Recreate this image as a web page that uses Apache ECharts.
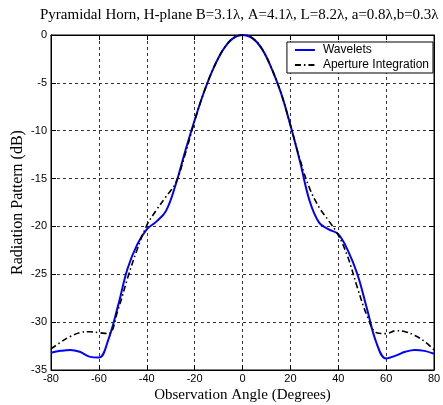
<!DOCTYPE html>
<html>
<head>
<meta charset="utf-8" />
<title>Pyramidal Horn</title>
<script src="https://cdn.jsdelivr.net/npm/echarts@6/dist/echarts.min.js"></script>
<style>
  html, body { margin: 0; padding: 0; background: #fff; }
  #chart { width: 443px; height: 405px; }
</style>
</head>
<body>
<div id="chart"></div>
<script type="text/javascript">
// observation angles (degrees)
var angles = [-80, -76, -72, -68, -64, -60, -56, -52, -48, -44, -40, -36, -32, -28, -24, -20, -16, -12, -8, -4,
  0, 4, 8, 12, 16, 20, 24, 28, 32, 36, 40, 44, 48, 52, 56, 60, 64, 68, 72, 76, 80];
// radiation pattern (dB)
var wavelets = [-33.2, -33.0, -32.9, -33.1, -33.6, -33.7, -31.8, -28.3, -24.4, -21.9, -20.3, -19.5, -18.4, -15.7, -12.2, -8.9, -5.9, -3.4, -1.5, -0.35,
  0, -0.3, -1.4, -3.4, -6.0, -9.4, -13.2, -17.3, -19.6, -20.3, -20.8, -22.5, -25.0, -28.6, -32.2, -33.8, -33.5, -33.1, -32.9, -33.0, -33.3];
var aperture = [-32.8, -32.1, -31.5, -31.1, -31.0, -31.1, -31.2, -28.7, -25.4, -22.4, -19.9, -18.3, -16.9, -15.5, -12.5, -9.0, -5.9, -3.4, -1.5, -0.35,
  0, -0.3, -1.4, -3.4, -6.0, -9.4, -13.0, -16.0, -18.0, -19.4, -20.9, -23.2, -26.4, -29.3, -31.1, -31.2, -30.9, -31.0, -31.4, -32.0, -32.9];
var xTicks = { min: -80, max: 80, interval: 20 };
var yTicks = { min: -35, max: 0, interval: 5 };

function pairs(ys) {
  return angles.map(function (a, i) { return [a, ys[i]]; });
}

var myChart = echarts.init(document.getElementById('chart'));
var gridLine = { show: true, lineStyle: { color: '#333', type: [3, 3], width: 1 } };
var tickFont = { color: '#000', fontFamily: 'Liberation Sans, Arial', fontSize: 11 };
var serif = 'Liberation Serif, Times New Roman';
var option = {
  backgroundColor: '#fff',
  animation: false,
  title: {
    text: 'Pyramidal Horn, H-plane B=3.1\u03bb, A=4.1\u03bb, L=8.2\u03bb, a=0.8\u03bb,b=0.3\u03bb',
    left: 40, top: 8, padding: 0,
    textStyle: { fontFamily: serif, fontWeight: 'normal', fontSize: 15, color: '#000' }
  },
  legend: {
    orient: 'vertical',
    right: 10, top: 42,
    backgroundColor: '#fff',
    borderColor: '#000', borderWidth: 1,
    padding: [2, 4, 2, 7],
    itemGap: 3,
    itemWidth: 20, itemHeight: 12,
    itemStyle: { color: 'rgba(0,0,0,0)', borderWidth: 0 },
    textStyle: { fontFamily: 'Liberation Sans, Arial', fontSize: 12, color: '#000', padding: [0, 0, 0, 3] },
    data: ['Wavelets', 'Aperture Integration']
  },
  grid: { left: 51, right: 9, top: 35, bottom: 35, outerBoundsMode: 'none', show: true, borderColor: '#000', borderWidth: 1 },
  xAxis: [{
    type: 'value', min: xTicks.min, max: xTicks.max, interval: xTicks.interval,
    name: 'Observation Angle (Degrees)', nameLocation: 'middle', nameGap: 18, nameMoveOverlap: false,
    nameTextStyle: { fontFamily: serif, fontSize: 15, color: '#000' },
    axisLine: { onZero: false, lineStyle: { color: '#000' } },
    axisTick: { inside: true, length: 5, lineStyle: { color: '#000' } },
    axisLabel: Object.assign({ margin: 3 }, tickFont),
    splitLine: gridLine
  }, {
    type: 'value', position: 'top', min: xTicks.min, max: xTicks.max, interval: xTicks.interval,
    axisLine: { onZero: false, lineStyle: { color: '#000' } },
    axisTick: { inside: true, length: 5, lineStyle: { color: '#000' } },
    axisLabel: { show: false }, splitLine: { show: false }
  }],
  yAxis: [{
    type: 'value', min: yTicks.min, max: yTicks.max, interval: yTicks.interval,
    name: 'Radiation Pattern (dB)', nameLocation: 'middle', nameGap: 25, nameMoveOverlap: false,
    nameTextStyle: { fontFamily: serif, fontSize: 16, color: '#000' },
    axisLine: { show: true, onZero: false, lineStyle: { color: '#000' } },
    axisTick: { show: true, inside: true, length: 5, lineStyle: { color: '#000' } },
    axisLabel: Object.assign({ margin: 4 }, tickFont),
    splitLine: gridLine
  }, {
    type: 'value', position: 'right', min: yTicks.min, max: yTicks.max, interval: yTicks.interval,
    axisLine: { show: true, onZero: false, lineStyle: { color: '#000' } },
    axisTick: { show: true, inside: true, length: 5, lineStyle: { color: '#000' } },
    axisLabel: { show: false }, splitLine: { show: false }
  }],
  series: [{
    name: 'Wavelets', type: 'line', data: pairs(wavelets),
    smooth: 0.4, showSymbol: false, symbol: 'none',
    itemStyle: { color: '#0000ff' },
    lineStyle: { color: '#0000ff', width: 2 }
  }, {
    name: 'Aperture Integration', type: 'line', data: pairs(aperture),
    smooth: 0.4, showSymbol: false, symbol: 'none',
    itemStyle: { color: '#000' },
    lineStyle: { color: '#000', width: 1.6, type: [6, 3, 1.5, 3] }
  }]
};
myChart.setOption(option);
</script>
</body>
</html>
